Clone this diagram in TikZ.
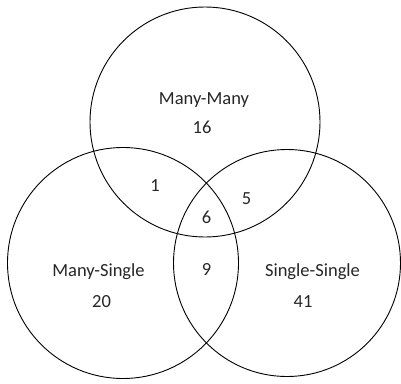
\documentclass[tikz,border=0pt]{standalone}
\usepackage{fontspec}
\setmainfont{Carlito}
\begin{document}
\begin{tikzpicture}[x=1pt,y=-1pt,
  ring/.style={draw=black,line width=0.9pt},
  lbl/.style={font=\fontsize{18.5}{22}\selectfont,text=black!85,inner sep=0pt}]
\useasboundingbox (0,0) rectangle (401,383);
\draw[ring] (205,122) circle (115);
\draw[ring] (123,263) circle (115.5);
\draw[ring] (287,263) circle (113.5);
\node[lbl] (mm) at (204,100) {Many-Many};
\node[lbl] (n16) at (202,127) {16};
\node[lbl] (ms) at (98.5,272) {Many-Single};
\node[lbl] (n20) at (101.5,302) {20};
\node[lbl] (ss) at (312.5,272) {Single-Single};
\node[lbl] (n41) at (303,302) {41};
\node[lbl] (n1) at (155,186) {1};
\node[lbl] (n5) at (246.5,199) {5};
\node[lbl] (n6) at (206.5,217) {6};
\node[lbl] (n9) at (206.5,269.5) {9};
\end{tikzpicture}
\end{document}
